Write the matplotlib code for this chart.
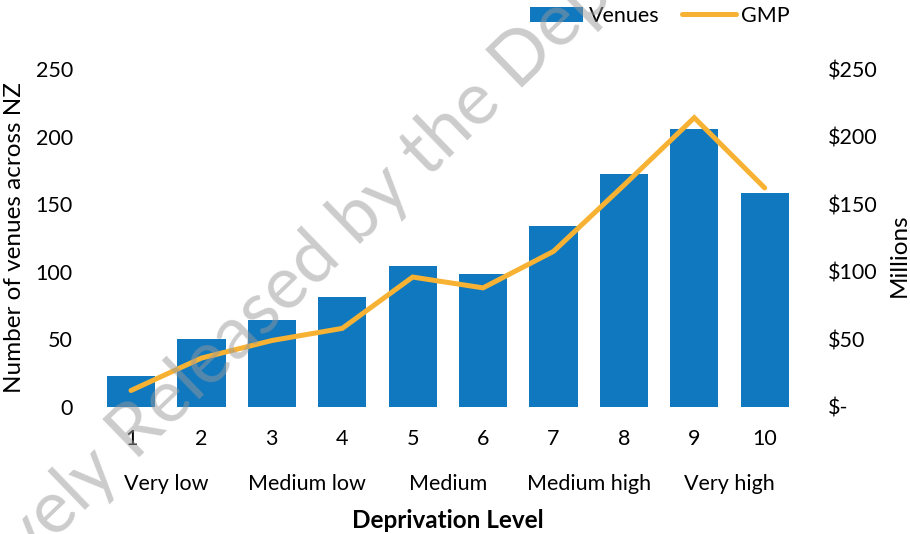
import numpy as np
import matplotlib
matplotlib.use("Agg")
import matplotlib.pyplot as plt

plt.rcParams["font.family"] = ["Lato", "DejaVu Sans"]

levels = [1, 2, 3, 4, 5, 6, 7, 8, 9, 10]
venues = [23, 50, 64, 81, 104, 98, 134, 172, 206, 158]
gmp_millions = [12, 36, 49, 58, 96, 88, 115, 164, 214, 162]
groups = ["Very low", "Medium low", "Medium", "Medium high", "Very high"]
left_ticks = [0, 50, 100, 150, 200, 250]
right_labels = ["$-", "$50", "$100", "$150", "$200", "$250"]

bar_color = "#0F78BF"
line_color = "#F7B233"
fs = 15.5
title_fs = 17.5

fig = plt.figure(figsize=(9.10, 5.34), dpi=100)
ax = fig.add_axes([0.1053, 0.2384, 0.7737, 0.6322])
ax2 = ax.twinx()

bars = ax.bar(levels, venues, width=0.685, color=bar_color, label="Venues", zorder=2)
line, = ax2.plot(levels, gmp_millions, color=line_color, lw=3.6,
                 solid_capstyle="round", solid_joinstyle="miter", label="GMP", zorder=3)

ax.set_xlim(0.5, 10.5)
ax.set_ylim(0, 250)
ax2.set_ylim(0, 250)
ax.set_yticks(left_ticks)
ax2.set_yticks(left_ticks)
ax2.set_yticklabels(right_labels)
ax.set_xticks(levels)

for a in (ax, ax2):
    for s in a.spines.values():
        s.set_visible(False)
    a.tick_params(length=0, labelsize=fs)
ax.tick_params(axis="y", pad=16.5)
ax2.tick_params(axis="y", pad=20)
ax.tick_params(axis="x", pad=16)

fig.text(0.0154, 0.556, "Number of venues across NZ", rotation=90, fontsize=title_fs,
         ha="center", va="center")
fig.text(0.988, 0.523, "Millions", rotation=90, fontsize=title_fs, ha="center", va="center")

# group labels under pairs of levels
for i, g in enumerate(groups):
    x = (levels[2 * i] + levels[2 * i + 1]) / 2
    ax.text(x, -0.228, g, transform=ax.get_xaxis_transform(), ha="center", va="center", fontsize=fs)
fig.text(0.492, 0.026, "Deprivation Level", ha="center", va="center", fontsize=title_fs,
         fontweight="bold")

fig.legend([bars, line], ["Venues", "GMP"], loc="center", bbox_to_anchor=(0.725, 0.97),
           ncol=2, frameon=False, fontsize=fs, handlelength=2.5, handletextpad=0.25,
           columnspacing=1.05, handleheight=0.7)

# watermark
wm = dict(rotation=44, rotation_mode="anchor", fontsize=53, color="#999999", alpha=0.5,
          va="baseline", zorder=10)
fig.text(135 / 910, 1 - 462 / 534, "Proactively ", ha="right", **wm)
fig.text(135 / 910, 1 - 462 / 534, "Released by the Department of Internal Affairs", ha="left", **wm)

fig.savefig("out.png", dpi=100)
